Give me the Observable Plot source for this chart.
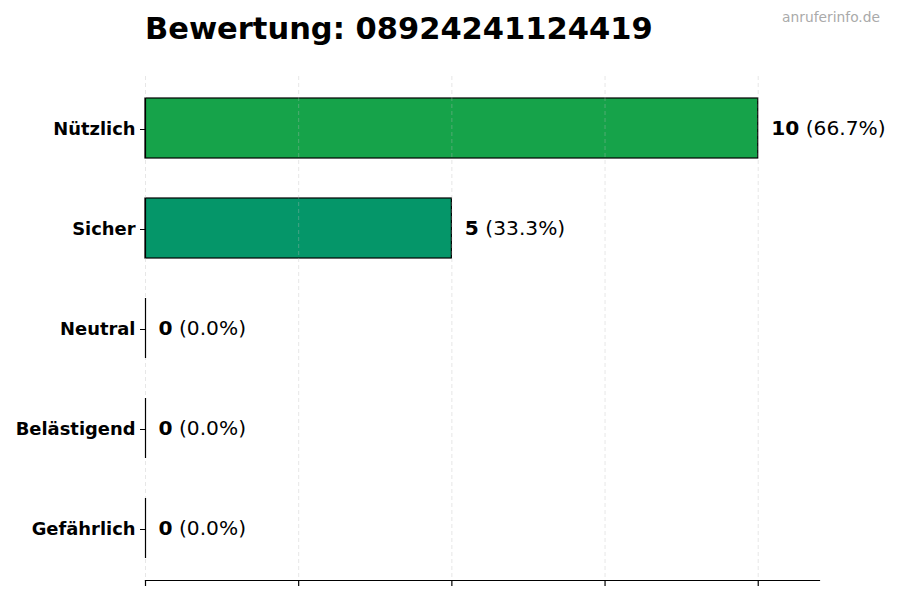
<!DOCTYPE html>
<html>
<head>
<meta charset="utf-8">
<script src="https://cdn.jsdelivr.net/npm/d3@7"></script>
<script src="https://cdn.jsdelivr.net/npm/@observablehq/plot@0.6"></script>
<style>
  html, body { margin: 0; padding: 0; background: #fff; }
  #wrap { position: relative; width: 900px; height: 600px; font-family: "DejaVu Sans", sans-serif; }
  #title { position: absolute; left: 145px; top: 11px; font-size: 30.5px; font-weight: bold; color: #000; white-space: nowrap; }
  #mark { position: absolute; right: 20px; top: 9px; font-size: 13.8px; color: #aaaaaa; }
  #chart { position: absolute; left: 0; top: 0; }
</style>
</head>
<body>
<div id="wrap">
  <div id="chart"></div>
  <div id="title">Bewertung: 08924241124419</div>
  <div id="mark">anruferinfo.de</div>
</div>
<script>
const categories = ["Nützlich", "Sicher", "Neutral", "Belästigend", "Gefährlich"];
const counts = [10, 5, 0, 0, 0];
const percents = [66.7, 33.3, 0.0, 0.0, 0.0];
const colors = ["#16a34a", "#059669", "#9ca3af", "#f59e0b", "#dc2626"];
const xTicks = [0, 2.5, 5, 7.5, 10];

const data = categories.map((c, i) => ({label: c, count: counts[i], pct: percents[i], color: colors[i]}));

const plot = Plot.plot({
  width: 900,
  height: 600,
  marginTop: 76,
  marginBottom: 20,
  marginLeft: 145,
  marginRight: 81,
  style: {fontFamily: "DejaVu Sans, sans-serif", background: "#fff"},
  x: {domain: [0, 11], ticks: xTicks, label: null},
  y: {domain: categories, paddingInner: 0.4, paddingOuter: 0.22, label: null},
  marks: [
    Plot.barX(data, {x1: d => 0, x2: "count", y: "label", fill: "color", stroke: "#000", strokeWidth: 1.2}),
    Plot.gridX(xTicks, {stroke: "#bbb", strokeOpacity: 0.45, strokeDasharray: "4,3", strokeWidth: 0.8}),
    Plot.tickX(data, {x: d => 0, y: "label", stroke: "#000", strokeWidth: 1.2}),
    Plot.frame({anchor: "bottom", stroke: "#000", strokeWidth: 1.2}),
    Plot.axisX({ticks: xTicks, tickSize: 6, tickFormat: () => "", stroke: "#000", strokeWidth: 1.2, label: null}),
    Plot.axisY({tickSize: 5, tickPadding: 5, fontSize: 17.9, fontWeight: "bold", fill: "#000", stroke: "#000", label: null, dy: 1}),
    Plot.text(data, {x: "count", y: "label", text: d => `${d.count}|(${d.pct.toFixed(1)}%)`, textAnchor: "start", dx: 13, fontSize: 20.2, fill: "#000", className: "vlabel"})
  ]
});

document.getElementById("chart").appendChild(plot);

// split value labels into bold count + regular percentage
d3.select(plot).selectAll("g.vlabel text").each(function() {
  const t = d3.select(this);
  const [n, p] = t.text().split("|");
  t.text(null);
  t.append("tspan").attr("font-weight", "bold").text(n);
  t.append("tspan").text(" " + p);
});
</script>
</body>
</html>
